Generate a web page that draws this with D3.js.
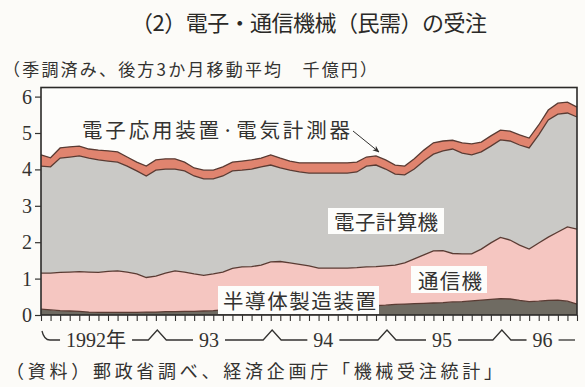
<!DOCTYPE html>
<html><head><meta charset="utf-8">
<script src="https://cdn.jsdelivr.net/npm/d3@7"></script>
<style>
html,body{margin:0;padding:0;background:#fcfbf8;}
svg{display:block;}
</style></head><body>
<svg id="c" width="585" height="387"></svg>
<script>
// ---- data (千億円, 季調済み後方3か月移動平均), monthly Jan 1992 – Sep 1996 ----
const months = d3.timeMonth.range(new Date(1992,0,1), new Date(1996,9,1));
const semi = [.16,.14,.12,.11,.10,.08,.07,.07,.07,.07,.07,.08,.08,.09,.09,.10,.10,.11,.12,.14,.15,.16,.16,.17,.18,.19,.20,.20,.21,.21,.22,.22,.23,.24,.25,.26,.27,.29,.30,.31,.32,.33,.34,.36,.37,.39,.41,.43,.45,.44,.40,.37,.38,.40,.41,.38,.30];
const comm = [.99,1.01,1.05,1.07,1.09,1.10,1.10,1.13,1.14,1.11,1.06,.95,.99,1.06,1.12,1.08,1.03,.98,1.01,1.04,1.13,1.16,1.17,1.20,1.28,1.28,1.23,1.19,1.14,1.08,1.07,1.07,1.06,1.06,1.07,1.07,1.08,1.08,1.13,1.23,1.33,1.43,1.43,1.33,1.31,1.29,1.40,1.55,1.68,1.62,1.52,1.44,1.60,1.74,1.87,2.04,2.06];
const comp = [2.94,2.92,3.14,3.16,3.18,3.13,3.09,3.03,2.99,2.91,2.83,2.79,2.91,2.86,2.80,2.78,2.69,2.65,2.61,2.64,2.68,2.66,2.68,2.70,2.66,2.57,2.55,2.54,2.55,2.61,2.61,2.61,2.61,2.63,2.77,2.79,2.66,2.50,2.42,2.47,2.58,2.66,2.74,2.87,2.77,2.72,2.67,2.66,2.68,2.72,2.75,2.78,2.97,3.22,3.24,3.13,3.08];
const elec = [.31,.25,.28,.28,.27,.25,.27,.28,.28,.25,.24,.27,.28,.28,.28,.24,.22,.24,.24,.25,.24,.25,.25,.24,.28,.27,.25,.25,.28,.28,.28,.28,.28,.27,.25,.25,.25,.25,.24,.28,.30,.31,.27,.24,.28,.30,.27,.28,.27,.27,.28,.27,.27,.27,.30,.30,.27];
const seriesNames = ['半導体製造装置','通信機','電子計算機','電子応用装置·電気計測器'];
const yTicks = [0,1,2,3,4,5,6];
const yearLabels = ['1992年','93','94','95','96'];
const yearStartIdx = [12,24,36,48];

// ---- drawing ----
const svg = d3.select('#c');
const serif = "'Liberation Serif','Noto Sans CJK JP',serif";
const jp = "'Noto Sans CJK JP',sans-serif";
const ink = '#333230';

const x = d3.scaleLinear().domain([0, months.length-1]).range([41,577]);
const y = d3.scaleLinear().domain([0,6.25]).range([315,87.5]);

const keys = ['semi','comm','comp','elec'];
const rows = months.map((m,i)=>({semi:semi[i],comm:comm[i],comp:comp[i],elec:elec[i]}));
const stacked = d3.stack().keys(keys)(rows);
const fills = {semi:'#6f6b62', comm:'#f5c6c1', comp:'#cac9c6', elec:'#e0846f'};

svg.append('rect').attr('x',41).attr('y',87.5).attr('width',536).attr('height',227.5).attr('fill','#fdfdfb');

const area = d3.area().x((d,i)=>x(i)).y0(d=>y(d[0])).y1(d=>y(d[1]));
const line = d3.line().x((d,i)=>x(i)).y(d=>y(d[1]));
svg.append('g').selectAll('path').data(stacked).join('path')
  .attr('d',area).attr('fill',d=>fills[d.key]);
svg.append('g').selectAll('path').data(stacked).join('path')
  .attr('d',line).attr('fill','none').attr('stroke','#5a3b33').attr('stroke-width',1.3);

// frame
svg.append('rect').attr('x',41).attr('y',87.5).attr('width',536).attr('height',227.5)
  .attr('fill','none').attr('stroke','#2b2a28').attr('stroke-width',1.6);

// y axis
const ya = svg.append('g').attr('transform','translate(41,0)')
  .call(d3.axisLeft(y).tickValues(yTicks).tickSize(6).tickPadding(3).tickFormat(d3.format('d')));
ya.select('.domain').remove();
ya.selectAll('line').attr('stroke',ink).attr('stroke-width',1.2);
ya.selectAll('text').attr('font-family',serif).attr('font-size',20).attr('fill',ink);

// x axis monthly ticks
const xa = svg.append('g').attr('transform','translate(0,315)')
  .call(d3.axisBottom(x).tickValues(d3.range(months.length)).tickSize(6).tickFormat(''));
xa.select('.domain').remove();
xa.selectAll('line').attr('stroke',ink).attr('stroke-width',1.1);

// year labels with decorative line
const labelPos = [5.75, 17.55, 29.5, 41.9, 52.4];
const ly = 340;
const boxes = [];
yearLabels.forEach((t,k)=>{
  const tx = svg.append('text').attr('x',x(labelPos[k])).attr('y',ly)
    .attr('text-anchor','middle').attr('dominant-baseline','central')
    .attr('font-family',serif).attr('font-size',20).attr('fill',ink).text(t);
  const bb = tx.node().getBBox();
  boxes.push([bb.x, bb.x+bb.width]);
});
const peaks = yearStartIdx.map(i=>x(i+0.15));
const segs = [[58, boxes[0][0]-6]];
for(let k=0;k<boxes.length-1;k++) segs.push([boxes[k][1]+6, boxes[k+1][0]-6]);
segs.push([boxes[boxes.length-1][1]+6, 575]);
segs.forEach((s,k)=>{
  let d = (k===0) ? `M42,331 Q44,340 50,340 L${s[0]},${ly}` : `M${s[0]},${ly}`;
  peaks.filter(p=>p>s[0]&&p<s[1]).forEach(p=>{ d += ` L${p-9},${ly} L${p},${ly-10} L${p+9},${ly}`; });
  d += ` L${s[1]},${ly}`;
  svg.append('path').attr('d',d).attr('fill','none').attr('stroke',ink).attr('stroke-width',1.3);
});

// titles
function txt(str, x0, yc, size, len, fam, col){
  return svg.append('text').attr('x',x0).attr('y',yc).attr('dominant-baseline','central')
    .attr('font-family',fam||jp).attr('font-size',size).attr('fill',col||ink)
    .attr('textLength',len).attr('lengthAdjust','spacing').text(str);
}
txt('（2）電子・通信機械（民需）の受注', 131, 21, 22, 356, jp, '#2a2927');
txt('（季調済み、後方3か月移動平均　千億円）', 3, 68, 17, 374);
txt('（資料）郵政省調べ、経済企画庁「機械受注統計」', 6, 370, 18, 496);

// series labels
const boxFill = '#fdfdfb';
function boxed(str, bx, by, bw, bh, tx, len){
  svg.append('rect').attr('x',bx).attr('y',by).attr('width',bw).attr('height',bh).attr('fill',boxFill);
  txt(str, tx, by+bh/2, 20.5, len);
}
boxed(seriesNames[2], 328, 208, 116, 26, 334, 104);
boxed(seriesNames[1], 411, 266, 76, 27, 418, 64);
boxed(seriesNames[0], 218, 286, 161, 28, 223, 153);
txt(seriesNames[3], 82, 129, 20.5, 268);

// arrow
svg.append('defs').append('marker').attr('id','ah').attr('viewBox','0 0 10 10')
  .attr('refX',9).attr('refY',5).attr('markerWidth',7).attr('markerHeight',7).attr('orient','auto')
  .append('path').attr('d','M0,1 L10,5 L0,9 L3,5 Z').attr('fill',ink);
svg.append('line').attr('x1',353).attr('y1',131).attr('x2',379).attr('y2',152)
  .attr('stroke',ink).attr('stroke-width',1).attr('marker-end','url(#ah)');
</script>
</body></html>
